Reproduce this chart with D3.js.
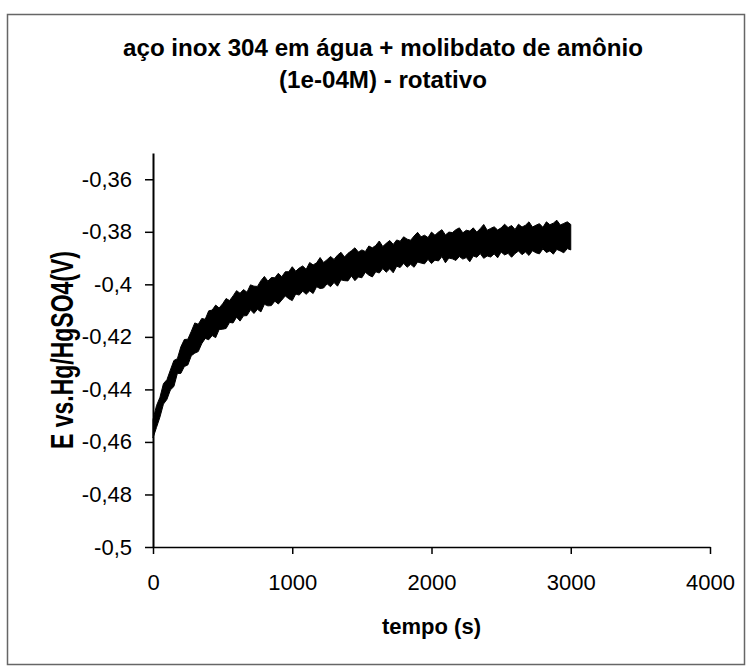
<!DOCTYPE html>
<html>
<head>
<meta charset="utf-8">
<script src="https://cdn.jsdelivr.net/npm/d3@7"></script>
<style>
  body { margin: 0; background: #fff; }
  svg { display: block; font-family: "Liberation Sans", Arial, sans-serif; }
</style>
</head>
<body>
<div id="chart"></div>
<script>
// time (s)
const tempo = [0, 25, 50, 75, 100, 125, 150, 175, 200, 225, 250, 275, 300, 325, 350, 375, 400, 425, 450, 475,
  500, 525, 550, 575, 600, 625, 650, 675, 700, 725, 750, 775, 800, 825, 850, 875, 900, 925, 950, 975,
  1000, 1025, 1050, 1075, 1100, 1125, 1150, 1175, 1200, 1225, 1250, 1275, 1300, 1325, 1350, 1375, 1400, 1425, 1450, 1475,
  1500, 1525, 1550, 1575, 1600, 1625, 1650, 1675, 1700, 1725, 1750, 1775, 1800, 1825, 1850, 1875, 1900, 1925, 1950, 1975,
  2000, 2025, 2050, 2075, 2100, 2125, 2150, 2175, 2200, 2225, 2250, 2275, 2300, 2325, 2350, 2375, 2400, 2425, 2450, 2475,
  2500, 2525, 2550, 2575, 2600, 2625, 2650, 2675, 2700, 2725, 2750, 2775, 2800, 2825, 2850, 2875, 2900, 2925, 2950, 2975, 3000];

// upper envelope of the noisy potential trace (V)
const eHigh = [-0.4515, -0.4462, -0.4430, -0.4378, -0.4363, -0.4326, -0.4290, -0.4283, -0.4238, -0.4210,
  -0.4209, -0.4179, -0.4147, -0.4152, -0.4130, -0.4133, -0.4101, -0.4098, -0.4079, -0.4090,
  -0.4074, -0.4054, -0.4062, -0.4044, -0.4024, -0.4034, -0.4020, -0.4030, -0.4002, -0.4007,
  -0.4008, -0.3986, -0.3970, -0.3988, -0.3974, -0.3975, -0.3958, -0.3971, -0.3952, -0.3952,
  -0.3933, -0.3950, -0.3938, -0.3930, -0.3943, -0.3917, -0.3926, -0.3918, -0.3898, -0.3917,
  -0.3906, -0.3894, -0.3905, -0.3889, -0.3878, -0.3896, -0.3882, -0.3872, -0.3861, -0.3877,
  -0.3869, -0.3875, -0.3854, -0.3861, -0.3852, -0.3835, -0.3856, -0.3844, -0.3833, -0.3848,
  -0.3831, -0.3836, -0.3819, -0.3828, -0.3832, -0.3816, -0.3802, -0.3819, -0.3813, -0.3822,
  -0.3801, -0.3813, -0.3801, -0.3792, -0.3812, -0.3801, -0.3803, -0.3792, -0.3785, -0.3804,
  -0.3794, -0.3797, -0.3785, -0.3801, -0.3788, -0.3772, -0.3794, -0.3787, -0.3781, -0.3793,
  -0.3785, -0.3771, -0.3784, -0.3776, -0.3791, -0.3771, -0.3782, -0.3775, -0.3762, -0.3782,
  -0.3775, -0.3769, -0.3783, -0.3762, -0.3773, -0.3767, -0.3756, -0.3774, -0.3768, -0.3762, -0.3772];

// lower envelope (V)
const eLow = [-0.4585, -0.4545, -0.4505, -0.4456, -0.4438, -0.4402, -0.4389, -0.4339, -0.4339, -0.4313,
  -0.4307, -0.4272, -0.4262, -0.4256, -0.4226, -0.4206, -0.4211, -0.4195, -0.4203, -0.4172,
  -0.4171, -0.4168, -0.4145, -0.4147, -0.4125, -0.4140, -0.4120, -0.4119, -0.4097, -0.4111,
  -0.4095, -0.4105, -0.4076, -0.4082, -0.4081, -0.4064, -0.4075, -0.4060, -0.4044, -0.4055,
  -0.4062, -0.4037, -0.4041, -0.4026, -0.4038, -0.4025, -0.4035, -0.4009, -0.4016, -0.4014,
  -0.3998, -0.4009, -0.3993, -0.4007, -0.3983, -0.3986, -0.3987, -0.3968, -0.3986, -0.3972,
  -0.3975, -0.3954, -0.3965, -0.3972, -0.3952, -0.3957, -0.3940, -0.3954, -0.3941, -0.3956,
  -0.3931, -0.3936, -0.3920, -0.3935, -0.3924, -0.3935, -0.3915, -0.3919, -0.3922, -0.3905,
  -0.3921, -0.3908, -0.3911, -0.3894, -0.3918, -0.3900, -0.3903, -0.3909, -0.3894, -0.3904,
  -0.3898, -0.3914, -0.3892, -0.3897, -0.3883, -0.3901, -0.3892, -0.3896, -0.3884, -0.3899,
  -0.3877, -0.3888, -0.3882, -0.3897, -0.3883, -0.3873, -0.3887, -0.3877, -0.3890, -0.3872,
  -0.3880, -0.3884, -0.3865, -0.3879, -0.3873, -0.3885, -0.3867, -0.3873, -0.3880, -0.3864, -0.3869];

const xTicks = [0, 1000, 2000, 3000, 4000];
const yTicks = [-0.5, -0.48, -0.46, -0.44, -0.42, -0.4, -0.38, -0.36];
const yTickLabels = ['-0,5', '-0,48', '-0,46', '-0,44', '-0,42', '-0,4', '-0,38', '-0,36'];

const width = 747, height = 668;
const plot = { left: 153, right: 710, top: 153, bottom: 547 };

const svg = d3.select('#chart')
  .append('svg')
  .attr('width', width)
  .attr('height', height);

// outer frame
svg.append('rect')
  .attr('x', 7.5).attr('y', 14.5)
  .attr('width', 737).attr('height', 650)
  .attr('fill', 'none')
  .attr('stroke', '#666')
  .attr('stroke-width', 1.5);

const x = d3.scaleLinear().domain([0, 4000]).range([plot.left, plot.right]);
const y = d3.scaleLinear().domain([-0.5, -0.35]).range([plot.bottom, plot.top]);

// title
const title = svg.append('text')
  .attr('transform', 'translate(383,0) scale(1.05,1)')
  .attr('text-anchor', 'middle')
  .style('font-size', '23px')
  .style('font-weight', 'bold');
title.append('tspan').attr('x', 0).attr('y', 56).text('aço inox 304 em água +  molibdato de amônio');
title.append('tspan').attr('x', 0).attr('y', 88).text('(1e-04M) - rotativo');

// data band
const data = tempo.map((t, i) => ({ t, hi: eHigh[i], lo: eLow[i] }));
const area = d3.area()
  .x(d => x(d.t))
  .y0(d => y(d.lo))
  .y1(d => y(d.hi));

svg.append('path')
  .datum(data)
  .attr('d', area)
  .attr('fill', '#000')
  .attr('stroke', '#000')
  .attr('stroke-width', 1)
  .attr('stroke-linejoin', 'miter');

// X axis
const xAxis = svg.append('g')
  .attr('transform', `translate(0,${plot.bottom})`)
  .call(d3.axisBottom(x).tickValues(xTicks).tickSize(7).tickSizeOuter(0).tickFormat(d3.format('d')));
xAxis.select('.domain').attr('stroke', '#000').attr('stroke-width', 1.5);
xAxis.selectAll('.tick line').attr('stroke', '#000').attr('stroke-width', 1.5);
xAxis.selectAll('text')
  .attr('y', 43)
  .attr('dy', 0)
  .style('fill', '#000')
  .style('font-size', '22px')
  .style('font-family', '"Liberation Sans", Arial, sans-serif');

// Y axis
const yAxis = svg.append('g')
  .attr('transform', `translate(${plot.left},0)`)
  .call(d3.axisLeft(y).tickValues(yTicks).tickSize(8).tickSizeOuter(0)
    .tickFormat((d, i) => yTickLabels[i]));
yAxis.select('.domain').attr('stroke', '#000').attr('stroke-width', 2);
yAxis.selectAll('.tick line').attr('stroke', '#000').attr('stroke-width', 1.5);
yAxis.selectAll('text')
  .attr('x', -21)
  .style('fill', '#000')
  .style('font-size', '22px')
  .style('font-family', '"Liberation Sans", Arial, sans-serif');

// X axis label
svg.append('text')
  .attr('x', (plot.left + plot.right) / 2)
  .attr('y', 634)
  .attr('text-anchor', 'middle')
  .style('font-size', '22px')
  .style('font-weight', 'bold')
  .text('tempo (s)');

// Y axis label
svg.append('text')
  .attr('transform', `translate(73,${(plot.top + plot.bottom) / 2}) scale(1.35,1) rotate(-90)`)
  .attr('text-anchor', 'middle')
  .style('font-size', '23px')
  .style('font-weight', 'bold')
  .text('E vs.Hg/HgSO4(V)');
</script>
</body>
</html>
